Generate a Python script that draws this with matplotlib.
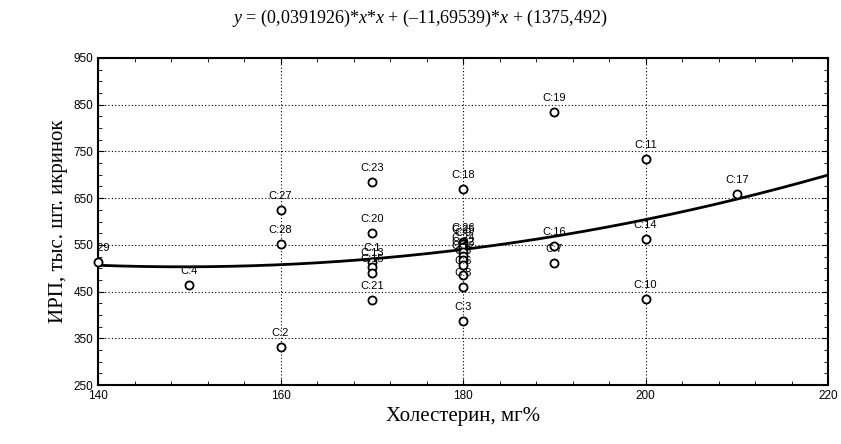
import matplotlib
matplotlib.use("Agg")
import matplotlib.pyplot as plt
import matplotlib.transforms as mtransforms
import numpy as np
from matplotlib.ticker import MultipleLocator

plt.rcParams["mathtext.fontset"] = "custom"
plt.rcParams["mathtext.rm"] = "Liberation Serif"
plt.rcParams["mathtext.it"] = "Liberation Serif:italic"

# case labels, cholesterol (mg%), fertility (thous. eggs)
labels = ["C:29", "C:27", "C:28", "C:2", "C:4",
          "C:23", "C:20", "C:1", "C:13", "C:15", "C:21",
          "C:18", "C:26", "C:25", "C:9", "C:24", "C:22", "C:12", "C:5", "C:6", "C:8", "C:3",
          "C:19", "C:16", "C:7",
          "C:11", "C:14", "C:10",
          "C:17"]
chol = [140, 160, 160, 160, 150,
        170, 170, 170, 170, 170, 170,
        180, 180, 180, 180, 180, 180, 180, 180, 180, 180, 180,
        190, 190, 190,
        200, 200, 200,
        210]
irp = [513, 625, 552, 331, 464,
       685, 575, 513, 502, 490, 432,
       670, 556, 552, 545, 535, 526, 517, 507, 485, 460, 387,
       834, 547, 511,
       734, 562, 434,
       659]
coef = [0.0391926, -11.69539, 1375.492]
yticks = [250, 350, 450, 550, 650, 750, 850, 950]
xticks = [140, 160, 180, 200, 220]

fig = plt.figure(figsize=(8.41, 4.44), dpi=100)
ax = fig.add_axes([98 / 841, 1 - 385 / 444, 730 / 841, 327 / 444])

xs = np.linspace(140, 220, 200)
ax.plot(xs, np.polyval(coef, xs), color="black", lw=2, zorder=3)
ax.scatter(chol, irp, s=34, facecolors="white", edgecolors="black", linewidths=1.3,
           zorder=4, clip_on=False)
lab_tr = mtransforms.offset_copy(ax.transData, fig=fig, y=10, units="points")
for lab, x, y in zip(labels, chol, irp):
    ax.text(x, y, lab, transform=lab_tr, ha="center", va="center", fontsize=8,
            family="Liberation Sans", zorder=5, clip_on=True)

ax.set_xlim(140, 220)
ax.set_ylim(250, 950)
ax.set_xticks(xticks)
ax.set_yticks(yticks)
ax.xaxis.set_minor_locator(MultipleLocator(4))
ax.yaxis.set_minor_locator(MultipleLocator(25))
ax.tick_params(which="both", direction="in", top=True, right=True, labelsize=8.5)
ax.tick_params(which="major", length=4)
ax.tick_params(which="minor", length=3)
for t in ax.get_xticklabels() + ax.get_yticklabels():
    t.set_family("Liberation Sans")
ax.grid(True, which="major", color="black", linestyle=(0, (1, 2)), linewidth=0.8)
for s in ax.spines.values():
    s.set_linewidth(1.5)

ax.set_xlabel("Холестерин, мг%", family="Liberation Serif", fontsize=15)
ax.set_ylabel("ИРП, тыс. шт. икринок", family="Liberation Serif", fontsize=15)
fig.text(420 / 841, 1 - 18 / 444,
         r"$y$ = (0,0391926)*$x$*$x$ + (–11,69539)*$x$ + (1375,492)",
         ha="center", va="center", fontsize=13, family="Liberation Serif")

fig.savefig("out.png", dpi=100)
